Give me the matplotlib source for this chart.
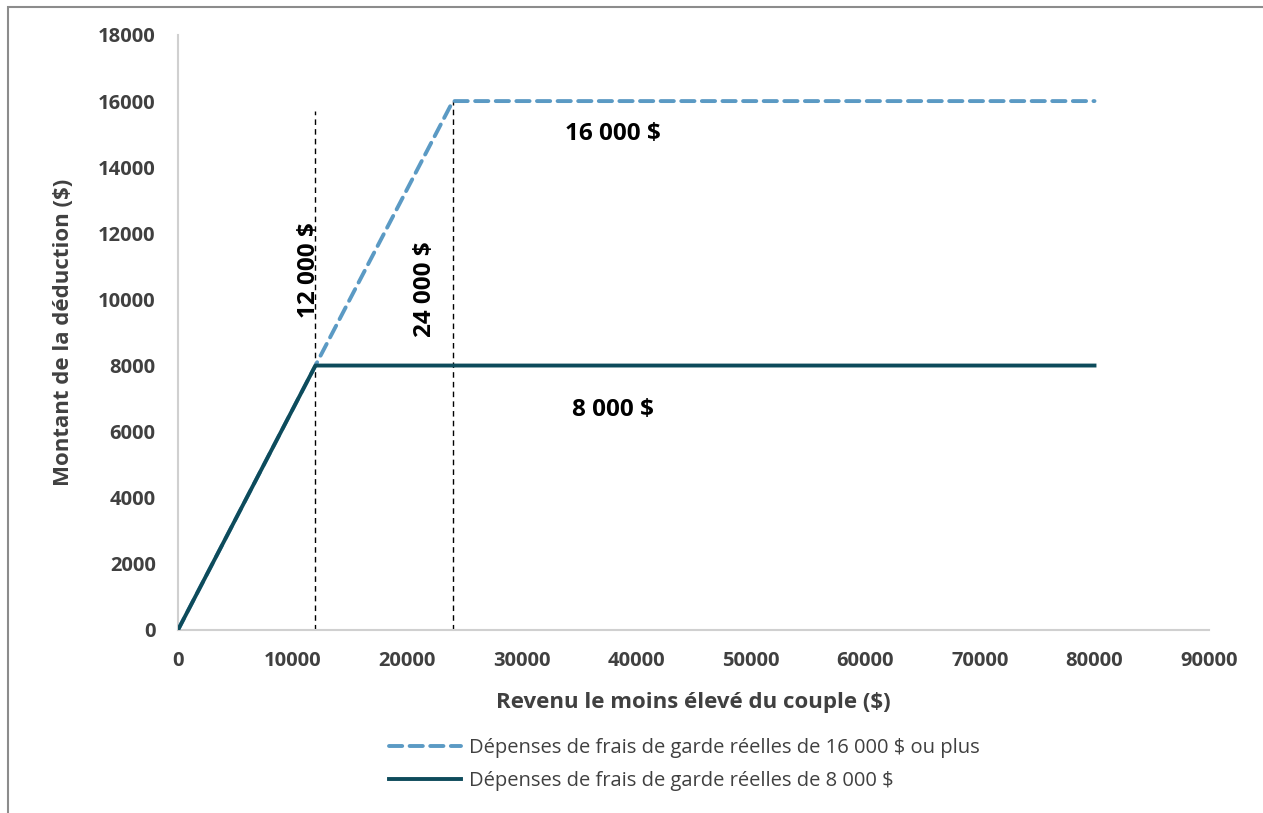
import matplotlib.pyplot as plt
from matplotlib.patches import Rectangle

# Data
revenu_16000 = [0, 12000, 24000, 80000]
deduction_16000 = [0, 8000, 16000, 16000]
revenu_8000 = [0, 12000, 80000]
deduction_8000 = [0, 8000, 8000]
seuils_x = [12000, 24000]
seuils_top = [15700, 16000]
label_16000 = "Dépenses de frais de garde réelles de 16 000 $ ou plus"
label_8000 = "Dépenses de frais de garde réelles de 8 000 $"

plt.rcParams['font.family'] = ['Open Sans', 'DejaVu Sans']
gray_txt = '#404040'

fig = plt.figure(figsize=(12.63, 8.13), dpi=100)
ax = fig.add_axes([0.1409, 0.2251, 0.8164, 0.7319])

# vertical guide lines
for xv, top in zip(seuils_x, seuils_top):
    ax.plot([xv, xv], [0, top], color='black', lw=1.0, linestyle=(0, (4, 3)), zorder=2)

ax.plot(revenu_16000, deduction_16000, color='#5B9AC4', lw=2.8,
        linestyle=(0, (3.4, 1.9)), dash_capstyle='round', label=label_16000, zorder=3)
ax.plot(revenu_8000, deduction_8000, color='#0D4B5B', lw=2.8,
        label=label_8000, zorder=4)

ax.set_xlim(0, 90000)
ax.set_ylim(0, 18000)
ax.set_xticks(range(0, 90001, 10000))
ax.set_yticks(range(0, 18001, 2000))
for side in ['top', 'right']:
    ax.spines[side].set_visible(False)
for side in ['left', 'bottom']:
    ax.spines[side].set_color('#D0D0D0')
    ax.spines[side].set_linewidth(1.5)
ax.tick_params(axis='y', length=0, pad=16, labelsize=14.5, labelcolor=gray_txt)
ax.tick_params(axis='x', length=0, pad=15, labelsize=14.5, labelcolor=gray_txt)
for lbl in ax.get_xticklabels() + ax.get_yticklabels():
    lbl.set_fontweight('bold')

ax.set_xlabel("Revenu le moins élevé du couple ($)", fontsize=16,
              fontweight='bold', color=gray_txt, labelpad=15)
ax.set_ylabel("Montant de la déduction ($)", fontsize=16,
              fontweight='bold', color=gray_txt, labelpad=17)

ax.text(38000, 15000, "16 000 $", fontsize=17.5, fontweight='bold', ha='center', va='center')
ax.text(38000, 6650, "8 000 $", fontsize=17.5, fontweight='bold', ha='center', va='center')
ax.text(11400, 10900, "12 000 $", fontsize=17.5, fontweight='bold', rotation=90,
        ha='center', va='center')
ax.text(21600, 10300, "24 000 $", fontsize=17.5, fontweight='bold', rotation=90,
        ha='center', va='center')

leg = fig.legend(loc='center', bbox_to_anchor=(0.542, 0.0597), ncol=1, frameon=False,
                 fontsize=14.5, handlelength=3.6, handletextpad=0.4, labelspacing=0.65)
for t in leg.get_texts():
    t.set_color(gray_txt)

# chart border (only left/top visible in the crop)
fig.patches.append(Rectangle((8 / 1263, -0.1), 1.2, 1 - 7 / 813 + 0.1,
                             transform=fig.transFigure, fill=False,
                             edgecolor='#8C8C8C', lw=1.5))

fig.savefig("out.png", dpi=100)
